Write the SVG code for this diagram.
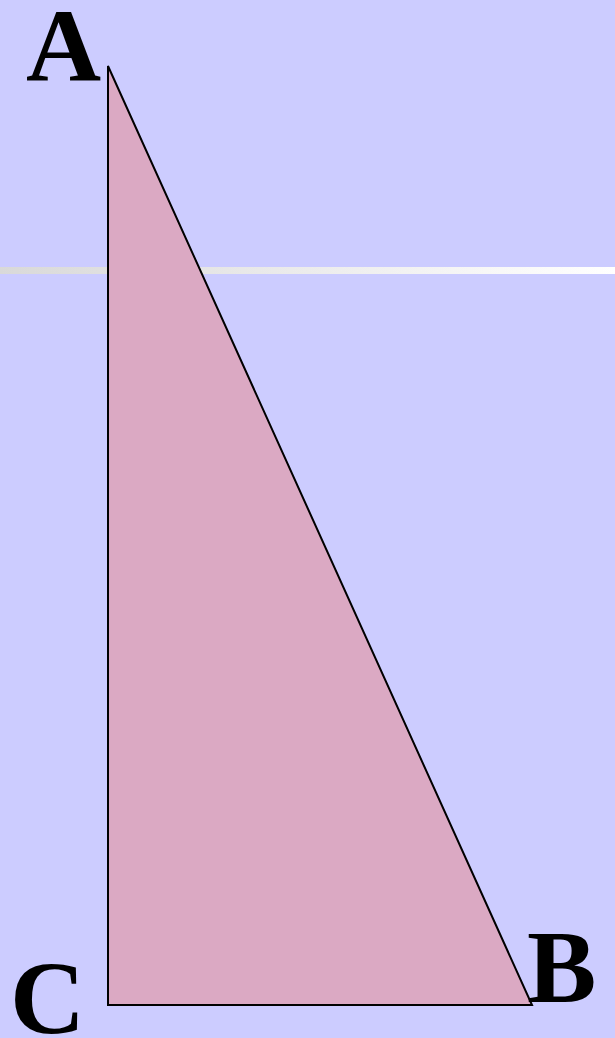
<svg xmlns="http://www.w3.org/2000/svg" width="615" height="1038" viewBox="0 0 615 1038">
<defs>
<linearGradient id="stripe" x1="0" y1="0" x2="1" y2="0">
<stop offset="0" stop-color="#d9d9d9"/>
<stop offset="1" stop-color="#ffffff"/>
</linearGradient>
<style>
.lbl{font-family:"Liberation Serif","Times New Roman",serif;font-weight:bold;font-size:104px;fill:#000}
</style>
</defs>
<rect width="615" height="1038" fill="#ccccff"/>
<rect x="0" y="267" width="615" height="7" fill="url(#stripe)"/>
<g id="triangle">
<polygon points="108,66 108,1005 532,1005" fill="#dba9c3" stroke="#000" stroke-width="2" stroke-linejoin="miter"/>
</g>
<g id="label-A"><text class="lbl" x="26" y="81">A</text></g>
<g id="label-B"><text class="lbl" x="527" y="1002">B</text></g>
<g id="label-C"><text class="lbl" x="10" y="1033">C</text></g>
</svg>
